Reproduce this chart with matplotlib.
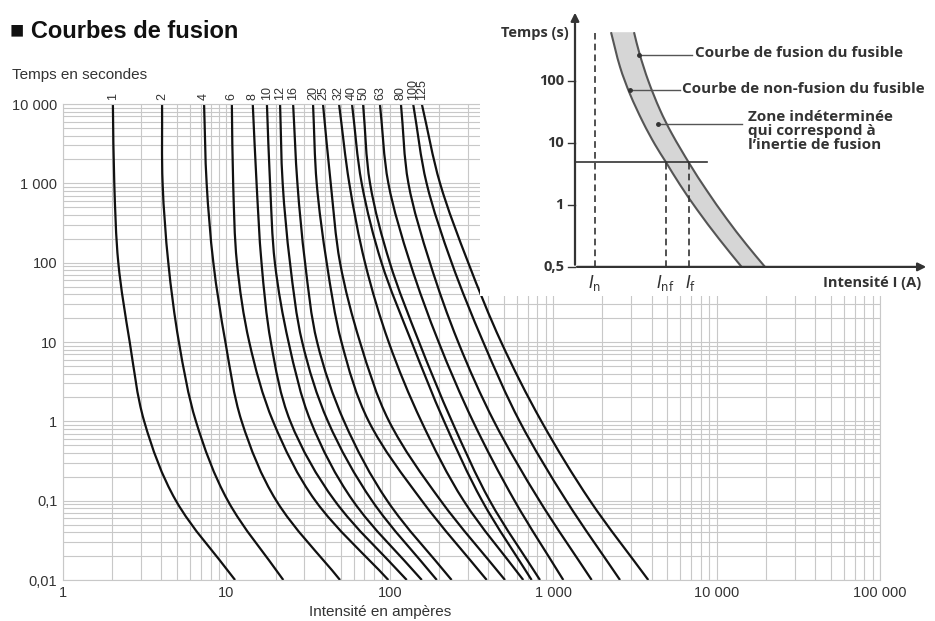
import matplotlib
matplotlib.use("Agg")
import matplotlib.pyplot as plt
from matplotlib.path import Path
from matplotlib.patches import PathPatch
import numpy as np

plt.rcParams['font.family'] = ['Liberation Sans', 'DejaVu Sans']

# --- courbes de fusion (courant en A lu sur chaque ligne de temps) ---
temps = [10000, 1000, 100, 10, 1, 0.1, 0.01]
calibres = ['1', '2', '4', '6', '8', '10', '12', '16', '20', '25', '32', '40', '50', '63', '80', '100', '125']
i_1 = [2.02, 2.06, 2.18, 2.56, 3.14, 4.91, 11.3]
i_2 = [4.04, 4.07, 4.41, 5.12, 6.51, 10.2, 22.3]
i_4 = [7.3, 7.57, 8.32, 9.86, 12.4, 20.2, 49.6]
i_6 = [10.8, 11.0, 11.6, 13.8, 19.3, 35.0, 98]
i_8 = [14.5, 15.3, 16.4, 18.7, 24.6, 46.0, 127]
i_10 = [17.7, 18.5, 19.8, 24.0, 32.8, 59.4, 157]
i_12 = [21.3, 22.1, 24.5, 29.1, 41.8, 77.8, 194]
i_16 = [25.6, 27.2, 30.3, 35.9, 52.5, 96.4, 239]
i_20 = [33.9, 35.7, 41.1, 50.6, 74.3, 157, 392]
i_25 = [39.0, 43.5, 49.6, 65.7, 99, 205, 507]
i_32 = [48.9, 56.5, 70.5, 98.4, 156, 283, 656]
i_40 = [58.7, 67.3, 89, 136, 215, 367, 738]
i_50 = [68.6, 75.7, 100, 151, 240, 409, 830]
i_63 = [87, 98, 133, 199, 323, 580, 1153]
i_80 = [117, 130, 176, 262, 434, 824, 1720]
i_100 = [139, 168, 239, 373, 623, 1203, 2564]
i_125 = [157, 203, 302, 480, 847, 1680, 3820]
courbes = [i_1, i_2, i_4, i_6, i_8, i_10, i_12, i_16, i_20, i_25, i_32,
           i_40, i_50, i_63, i_80, i_100, i_125]

x_ticks = [1, 10, 100, 1000, 10000, 100000]
x_labels = ['1', '10', '100', '1 000', '10 000', '100 000']
y_ticks = [0.01, 0.1, 1, 10, 100, 1000, 10000]
y_labels = ['0,01', '0,1', '1', '10', '100', '1 000', '10 000']

# --- schéma (unités arbitraires : x = multiple de In, y = niveau) ---
sch_niveaux = [0, 1, 2, 3]
sch_niveau_labels = ['0,5', '1', '10', '100']
nf_x = [1.8, 2.25, 2.75, 3.4, 4.0, 4.53, 5.25, 6.1, 7.2, 8.33]
nf_y = [3.79, 3.23, 2.79, 2.335, 1.975, 1.70, 1.326, 0.926, 0.453, 0.0]
f_x = [2.95, 3.22, 3.67, 4.25, 4.83, 5.75, 6.58, 7.58, 8.58, 9.5]
f_y = [3.79, 3.45, 3.00, 2.536, 2.159, 1.653, 1.238, 0.778, 0.358, 0.0]
i_n, i_nf, i_f = 1.0, 4.53, 5.7
niveau_t = 1.69


def bezier(px, py, kx=1.0, ky=1.0):
    # tracé lissé passant par les points (px, py); kx, ky ramènent
    # les deux axes à la même échelle visuelle
    P = np.column_stack([np.asarray(px, float) * kx, np.asarray(py, float) * ky])
    n = len(P)
    T = np.zeros_like(P)
    for i in range(n):
        if i == 0:
            d = P[1] - P[0]
        elif i == n - 1:
            d = P[-1] - P[-2]
        else:
            d = P[i + 1] - P[i - 1]
        T[i] = d / np.hypot(*d)
    verts = [P[0]]
    codes = [Path.MOVETO]
    for i in range(n - 1):
        L = np.hypot(*(P[i + 1] - P[i]))
        verts += [P[i] + T[i] * L / 3, P[i + 1] - T[i + 1] * L / 3, P[i + 1]]
        codes += [Path.CURVE4] * 3
    V = np.array(verts)
    V[:, 0] /= kx
    V[:, 1] /= ky
    return V, codes


fig = plt.figure(figsize=(9.35, 6.21), dpi=100)
ax = fig.add_axes([63/935, 1-580/621, 817/935, 476/621])
ax.set_xscale('log')
ax.set_yscale('log')
ax.set_xlim(1, 1e5)
ax.set_ylim(0.01, 1e4)

for lab, ii in zip(calibres, courbes):
    V, codes = bezier(np.log10(ii), np.log10(temps), kx=163.4, ky=79.3)
    ax.add_patch(PathPatch(Path(10 ** V, codes), fill=False, edgecolor='#111111',
                           lw=1.6, capstyle='butt'))
    ax.annotate(lab, xy=(ii[0], 1e4), xytext=(0, 3), textcoords='offset points',
                rotation=90, ha='center', va='bottom', fontsize=9, color='#333333',
                annotation_clip=False)

ax.xaxis.set_major_locator(matplotlib.ticker.FixedLocator(x_ticks))
ax.yaxis.set_major_locator(matplotlib.ticker.FixedLocator(y_ticks))
ax.set_xticklabels(x_labels)
ax.set_yticklabels(y_labels)
ax.xaxis.set_minor_locator(matplotlib.ticker.LogLocator(base=10, subs=np.arange(2, 10), numticks=20))
ax.yaxis.set_minor_locator(matplotlib.ticker.LogLocator(base=10, subs=np.arange(2, 10), numticks=20))
ax.xaxis.set_minor_formatter(matplotlib.ticker.NullFormatter())
ax.yaxis.set_minor_formatter(matplotlib.ticker.NullFormatter())
ax.tick_params(which='both', length=0, labelsize=10.5, labelcolor='#333333')
ax.tick_params(axis='x', pad=4)
ax.tick_params(axis='y', pad=4)
ax.grid(True, which='both', color='#c8c8c8', lw=0.8)
ax.set_axisbelow(True)
for s in ax.spines.values():
    s.set_color('#c8c8c8')
    s.set_linewidth(0.8)

fig.text(10/935, 1-31/621, '■ Courbes de fusion', fontsize=17, fontweight='bold',
         va='center', ha='left', color='#111111', family=['Liberation Sans', 'DejaVu Sans'])
fig.text(12/935, 1-75/621, 'Temps en secondes', fontsize=11, va='center', ha='left', color='#333333')
fig.text(380/935, 1-612/621, 'Intensité en ampères', fontsize=11, va='center', ha='center', color='#333333')

# --- encart ---
ins = fig.add_axes([480/935, 1-296/621, 455/935, 296/621])
ins.set_facecolor('white')
ins.set_xlim(-4.75, 18.0)
ins.set_ylim(-0.47, 4.31)
ins.set_xticks([])
ins.set_yticks([])
for s in ins.spines.values():
    s.set_visible(False)

fk = dict(family=['Open Sans', 'DejaVu Sans'], fontweight='bold', color='#333333')
Vnf, cnf = bezier(nf_x, nf_y, kx=20, ky=62)
Vf, cf = bezier(f_x, f_y, kx=20, ky=62)
bande = np.vstack([Vnf, Vf[::-1]])
ins.fill(bande[:, 0], bande[:, 1], color='#d6d6d6', lw=0)
ins.add_patch(PathPatch(Path(Vnf, cnf), fill=False, edgecolor='#555555', lw=1.5))
ins.add_patch(PathPatch(Path(Vf, cf), fill=False, edgecolor='#555555', lw=1.5))

ins.annotate('', xy=(0, 4.15), xytext=(0, -0.01),
             arrowprops=dict(arrowstyle='-|>', lw=1.6, color='#333333', mutation_scale=12))
ins.annotate('', xy=(17.7, 0), xytext=(-0.04, 0),
             arrowprops=dict(arrowstyle='-|>', lw=1.6, color='#333333', mutation_scale=12))
for n, lab in zip(sch_niveaux, sch_niveau_labels):
    ins.plot([-0.35, 0], [n, n], color='#333333', lw=1)
    ins.text(-0.55, n, lab, ha='right', va='center', fontsize=10.5, **fk)
ins.text(-0.3, 3.77, 'Temps (s)', ha='right', va='center', fontsize=10.5, **fk)

ins.plot([i_n, i_n], [0, 3.77], color='#333333', lw=1.2, ls=(0, (4, 2.5)))
ins.plot([i_nf, i_nf], [0, niveau_t], color='#333333', lw=1.2, ls=(0, (4, 2.5)))
ins.plot([i_f, i_f], [0, niveau_t], color='#333333', lw=1.2, ls=(0, (4, 2.5)))
ins.plot([0, 6.6], [niveau_t, niveau_t], color='#333333', lw=1.2)

ins.text(i_n, -0.26, r'$I_{\mathrm{n}}$', ha='center', va='center', fontsize=12, color='#333333')
ins.text(i_nf, -0.26, r'$I_{\mathrm{nf}}$', ha='center', va='center', fontsize=12, color='#333333')
ins.text(i_f + 0.1, -0.26, r'$I_{\mathrm{f}}$', ha='center', va='center', fontsize=12, color='#333333')
ins.text(17.3, -0.26, 'Intensité I (A)', ha='right', va='center', fontsize=10.5, **fk)

# légendes avec traits de rappel
ins.plot([3.2, 5.85], [3.42, 3.42], color='#555555', lw=1)
ins.plot([3.2], [3.42], 'o', color='#333333', ms=2.5)
ins.text(6.0, 3.45, 'Courbe de fusion du fusible', ha='left', va='center', fontsize=11, **fk)
ins.plot([2.75, 5.25], [2.85, 2.85], color='#555555', lw=1)
ins.plot([2.75], [2.85], 'o', color='#333333', ms=2.5)
ins.text(5.35, 2.87, 'Courbe de non-fusion du fusible', ha='left', va='center', fontsize=11, **fk)
ins.plot([4.15, 8.35], [2.31, 2.31], color='#555555', lw=1)
ins.plot([4.15], [2.31], 'o', color='#333333', ms=2.5)
ins.text(8.65, 2.53, 'Zone indéterminée\nqui correspond à\nl\u2019inertie de fusion',
         ha='left', va='top', fontsize=11, linespacing=1.0, **fk)

fig.savefig('out.png', dpi=100)
